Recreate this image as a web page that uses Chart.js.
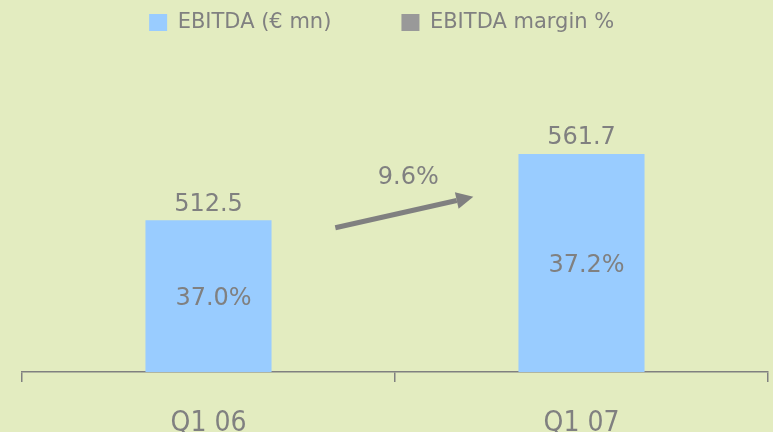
<!DOCTYPE html>
<html>
<head>
<meta charset="utf-8">
<script src="https://cdn.jsdelivr.net/npm/chart.js@4"></script>
<style>
  html, body { margin: 0; padding: 0; background: #E3ECC0; }
  #wrap { width: 773px; height: 432px; }
</style>
</head>
<body>
<div id="wrap"><canvas id="chart" width="773" height="432"></canvas></div>
<script>
var categories = ["Q1 06", "Q1 07"];
var ebitda = [512.5, 561.7];
var margins = [37.0, 37.2];
var seriesNames = ["EBITDA (€ mn)", "EBITDA margin %"];
// growth arrow ends, in category index / € mn units
var arrowFrom = [0.34, 507];
var arrowTo = [0.71, 530];

var GREY = "#808080";
var BG = "#E3ECC0";

var background = {
  id: "background",
  beforeDraw: function(chart) {
    var ctx = chart.ctx;
    ctx.save();
    ctx.fillStyle = BG;
    ctx.fillRect(0, 0, chart.width, chart.height);
    ctx.restore();
  }
};

var labels = {
  id: "labels",
  afterDraw: function(chart) {
    var ctx = chart.ctx;
    var bars = chart.getDatasetMeta(0).data;
    var xs = chart.scales.x, ys = chart.scales.y;
    ctx.save();
    ctx.fillStyle = GREY;
    ctx.font = "24px 'DejaVu Sans'";
    ctx.textAlign = "center";
    ctx.textBaseline = "middle";
    bars.forEach(function(bar, i) {
      var p = bar.getProps(["x", "y"], true);
      ctx.fillText(ebitda[i].toFixed(1), p.x, p.y - 16);
      ctx.fillText(margins[i].toFixed(1) + "%", p.x + 5, (p.y + ys.bottom) / 2 + 3);
    });

    // growth arrow
    var x1 = xs.getPixelForValue(arrowFrom[0]), y1 = ys.getPixelForValue(arrowFrom[1]);
    var x2 = xs.getPixelForValue(arrowTo[0]), y2 = ys.getPixelForValue(arrowTo[1]);
    var a = Math.atan2(y2 - y1, x2 - x1);
    var head = 17, half = 8.5;
    var bx = x2 - head * Math.cos(a), by = y2 - head * Math.sin(a);
    ctx.strokeStyle = GREY;
    ctx.lineWidth = 5;
    ctx.beginPath();
    ctx.moveTo(x1, y1);
    ctx.lineTo(bx, by);
    ctx.stroke();
    ctx.beginPath();
    ctx.moveTo(x2, y2);
    ctx.lineTo(bx + half * Math.sin(a), by - half * Math.cos(a));
    ctx.lineTo(bx - half * Math.sin(a), by + half * Math.cos(a));
    ctx.closePath();
    ctx.fill();

    var growth = ((ebitda[1] / ebitda[0] - 1) * 100).toFixed(1) + "%";
    ctx.fillText(growth, (x1 + x2) / 2 + 4, (y1 + y2) / 2 - 34);
    ctx.restore();
  }
};

new Chart(document.getElementById("chart").getContext("2d"), {
  type: "bar",
  data: {
    labels: categories,
    datasets: [{
      label: seriesNames[0],
      data: ebitda,
      backgroundColor: "#99CCFF",
      borderWidth: 0,
      barPercentage: 0.338,
      categoryPercentage: 1
    }, {
      type: "line",
      label: seriesNames[1],
      data: margins,
      yAxisID: "y2",
      backgroundColor: "#999999",
      borderColor: "#999999",
      borderWidth: 0,
      pointRadius: 0,
      showLine: false
    }]
  },
  options: {
    responsive: false,
    animation: false,
    layout: { padding: { left: 22, right: 5, top: 2, bottom: 0 } },
    plugins: {
      tooltip: { enabled: false },
      legend: {
        position: "top",
        labels: {
          color: GREY,
          font: { family: "'DejaVu Sans'", size: 21 },
          boxWidth: 18,
          boxHeight: 17,
          padding: 10,
          generateLabels: function(chart) {
            var items = Chart.defaults.plugins.legend.labels.generateLabels(chart);
            items[0].text = items[0].text + "         ";
            items[1].text = items[1].text + "    ";
            return items;
          }
        }
      }
    },
    scales: {
      x: {
        offset: true,
        grid: { display: true, drawOnChartArea: false, offset: true, tickLength: 10, color: GREY, lineWidth: 1.5 },
        border: { display: true, color: GREY, width: 1.5 },
        ticks: { color: GREY, font: { family: "'Liberation Sans Narrow', 'DejaVu Sans Condensed', sans-serif", size: 28 }, padding: 25 },
        afterFit: function(scale) { scale.height = 60; }
      },
      y: { display: false, min: 400, max: 644 },
      y2: { display: false, min: 0, max: 100 }
    }
  },
  plugins: [background, labels]
});
</script>
</body>
</html>
